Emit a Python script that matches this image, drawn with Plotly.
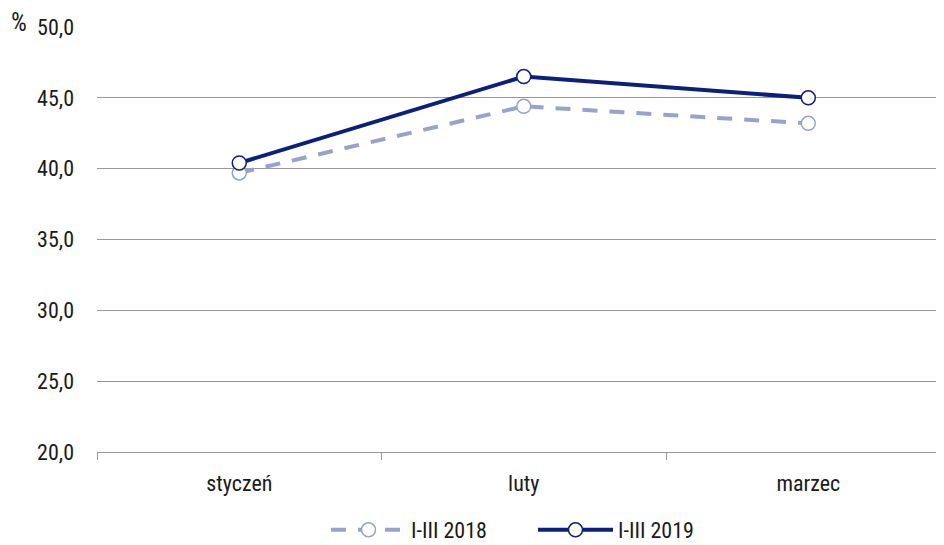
import plotly.graph_objects as go

categories = ["styczeń", "luty", "marzec"]
values_2018 = [39.7, 44.4, 43.2]
values_2019 = [40.4, 46.5, 45.0]
series_names = ["I-III 2018", "I-III 2019"]
y_ticks = [20, 25, 30, 35, 40, 45, 50]

FONT = "Roboto Condensed, Liberation Sans Narrow, Roboto, sans-serif"

# page body has an 8px default margin; the figure is sized to fit the window
W, H = 936, 537
OFF = 8

fig = go.Figure()
fig.add_trace(go.Scatter(
    x=categories, y=values_2018, name=series_names[0], mode="lines+markers",
    line=dict(color="#97a3cc", width=4, dash="15px,12px"),
    marker=dict(size=14, color="white", line=dict(color="#97a3cc", width=1.5)),
))
fig.add_trace(go.Scatter(
    x=categories, y=values_2019, name=series_names[1], mode="lines+markers",
    line=dict(color="#0b1f7c", width=4),
    marker=dict(size=14, color="white", line=dict(color="#0b1f7c", width=1.5)),
))

fig.update_layout(
    width=W, height=H,
    margin=dict(l=97 - OFF, r=0, t=27 - OFF, b=H - (452 - OFF), autoexpand=False),
    plot_bgcolor="white", paper_bgcolor="white",
    separators=", ",
    font=dict(family=FONT, size=22, color="#1a1a1a"),
    showlegend=True,
    legend=dict(orientation="h", x=(326 - OFF) / W, xanchor="left", xref="container",
                y=(H - (530 - OFF)) / H, yanchor="middle", yref="container",
                font=dict(size=22), itemwidth=75, entrywidth=117,
                traceorder="normal"),
    xaxis=dict(
        type="category", range=[-0.5, 2.477], showgrid=False, automargin=False,
        showline=True, linecolor="#999999", linewidth=1,
        ticks="outside", tickson="boundaries", ticklen=7, tickcolor="#999999",
        ticklabelstandoff=12,
    ),
    yaxis=dict(
        range=[20, 50], tickvals=y_ticks, tickformat=".1f", automargin=False,
        showgrid=True, gridcolor="#999999", gridwidth=1,
        zeroline=False, showline=False, ticks="",
        ticklabelstandoff=22,
    ),
    annotations=[dict(text="%", x=(9 - 97) / 847, y=1 + (27 - 22) / 425,
                      xref="paper", yref="paper",
                      xanchor="left", yanchor="middle", showarrow=False,
                      font=dict(size=25))],
)
fig.write_html("out.html")
